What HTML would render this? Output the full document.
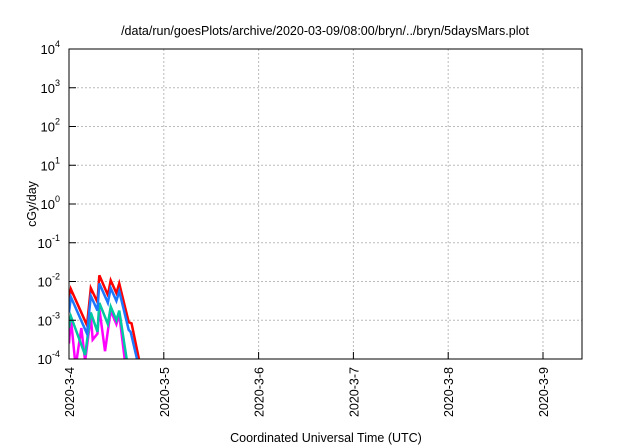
<!DOCTYPE html>
<html><head><meta charset="utf-8"><style>
body{margin:0;background:#fff}
svg{display:block;font-family:"Liberation Sans",sans-serif}
</style></head><body>
<svg id="c" width="640" height="448">
<text x="325" y="35" text-anchor="middle" font-size="12.5">/data/run/goesPlots/archive/2020-03-09/08:00/bryn/../bryn/5daysMars.plot</text>
<text x="326" y="442" text-anchor="middle" font-size="12.5">Coordinated Universal Time (UTC)</text>
<text transform="translate(36,204) rotate(-90)" text-anchor="middle" font-size="12.5">cGy/day</text>
<g id="grid"></g><g id="series"></g><g id="axes"></g>
</svg>
<script>
const xTicks=["2020-3-4","2020-3-5","2020-3-6","2020-3-7","2020-3-8","2020-3-9"];
const yExps=[-4,-3,-2,-1,0,1,2,3,4];
const redT=[0,0.02,0.19,0.23,0.30,0.32,0.41,0.44,0.50,0.53,0.63,0.66,0.74];
const redV=[-2.5,-2.20,-3.13,-2.17,-2.53,-1.84,-2.35,-1.97,-2.30,-2.05,-3.05,-3.08,-4.03];
const blueT=[0,0.02,0.19,0.23,0.30,0.32,0.41,0.44,0.50,0.53,0.63,0.65,0.72];
const blueV=[-2.8,-2.40,-3.35,-2.37,-2.75,-2.05,-2.55,-2.17,-2.50,-2.25,-3.25,-3.30,-4.03];
const greenT=[0,0.02,0.17,0.23,0.30,0.32,0.41,0.44,0.50,0.53,0.61];
const greenV=[-3.2,-2.9,-3.9,-2.80,-3.3,-2.55,-3.1,-2.65,-3.0,-2.75,-4.03];
const magT=[0,0.02,0.07,0.13,0.17,0.23,0.25,0.30,0.32,0.38,0.44,0.50,0.53,0.59];
const magV=[-3.6,-2.95,-4.2,-3.2,-4.05,-2.9,-3.5,-3.35,-2.7,-3.8,-2.75,-3.1,-2.85,-4.05];
const L=69,R=582,T=49,B=359,PX=94.8;
const xs=t=>L+t*PX, ys=e=>B-(e+4)*(B-T)/8;
const NS="http://www.w3.org/2000/svg";
function mk(tag,attrs,parent){const e=document.createElementNS(NS,tag);for(const k in attrs)e.setAttribute(k,attrs[k]);parent.appendChild(e);return e;}
const grid=document.getElementById('grid'),axes=document.getElementById('axes'),ser=document.getElementById('series');
yExps.forEach(e=>{const y=ys(e);
 if(e>-4&&e<4){const g=mk('line',{x1:L,x2:R,y1:y,y2:y,stroke:'#bbb','stroke-dasharray':'2,2'},grid);
 
 }
 const tk=mk('line',{x1:L,x2:L+7,y1:y,y2:y,stroke:'#000'},axes);
 
 
 const t=mk('text',{x:60,y:y+5,'text-anchor':'end','font-size':13},axes);
 
 
 t.textContent='10';
 const s=mk('tspan',{dy:-7,'font-size':9},t);s.textContent=String(e);
});
xTicks.forEach((lab,i)=>{const x=xs(i);
 if(i>0){const g=mk('line',{x1:x,x2:x,y1:T,y2:B,stroke:'#bbb','stroke-dasharray':'2,2'},grid);
 
 }
 const tk=mk('line',{x1:x,x2:x,y1:B,y2:B-7,stroke:'#000'},axes);
 
 
 const t=mk('text',{transform:`translate(${x+5},${B+8}) rotate(-90)`,'text-anchor':'end','font-size':12.5},axes);
 
 
 t.textContent=lab;
});
const fr=mk('rect',{x:L,y:T,width:R-L,height:B-T,fill:'none',stroke:'#000','stroke-width':1},axes);


const cp=mk('clipPath',{id:'cp'},ser);mk('rect',{x:L,y:T,width:R-L,height:B-T},cp);
[[magT,magV,'#ff00ff','magenta-series'],[greenT,greenV,'#00c8a0','green-series'],[redT,redV,'#ff0000','red-series'],[blueT,blueV,'#1e78ff','blue-series']].forEach(([tt,vv,col,nm])=>{
 const p=mk('polyline',{points:tt.map((t,i)=>xs(t)+','+ys(vv[i])).join(' '),fill:'none',stroke:col,'stroke-width':2.5,'clip-path':'url(#cp)'},ser);
 
 
});
</script>
</body></html>
